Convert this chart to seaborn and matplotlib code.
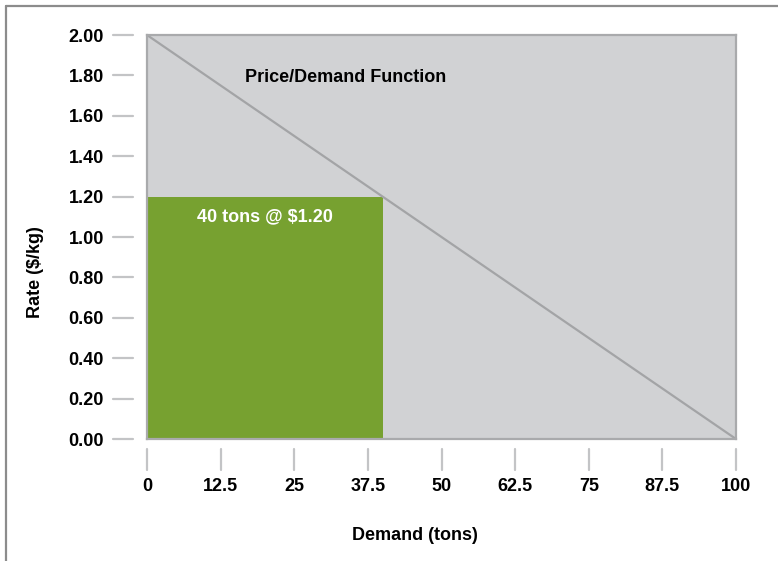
import matplotlib
matplotlib.use("Agg")
import matplotlib.pyplot as plt
import seaborn as sns
import pandas as pd
from matplotlib.lines import Line2D

# Linear price/demand function endpoints
demand_tons = [0, 100]
rate_per_kg = [2.00, 0.00]

# Selected operating point
point_demand = 40
point_rate = 1.20

x_ticks = [0, 12.5, 25, 37.5, 50, 62.5, 75, 87.5, 100]
x_tick_labels = ["0", "12.5", "25", "37.5", "50", "62.5", "75", "87.5", "100"]
y_ticks = [0.0, 0.2, 0.4, 0.6, 0.8, 1.0, 1.2, 1.4, 1.6, 1.8, 2.0]
y_tick_labels = [f"{v:.2f}" for v in y_ticks]

sns.set_style("white")
plt.rcParams["font.family"] = ["Liberation Sans", "DejaVu Sans"]
plt.rcParams["font.weight"] = "bold"
plt.rcParams["text.color"] = "black"

FS = 13

fig = plt.figure(figsize=(7.78, 5.61), dpi=100)
ax = fig.add_axes([147 / 778, 1 - 439 / 561, 589 / 778, 404 / 561])

ax.set_facecolor("#d1d2d4")
for side in ["top", "right", "left", "bottom"]:
    ax.spines[side].set_color("#a9aaac")
    ax.spines[side].set_linewidth(1.6)
    ax.spines[side].set_zorder(5)

# Revenue rectangle at the selected point
ax.bar(0, point_rate, width=point_demand, align="edge", color="#77a130",
       edgecolor="none", linewidth=0, zorder=2)

# Demand curve
curve = pd.DataFrame({"Demand": demand_tons, "Rate": rate_per_kg})
sns.lineplot(data=curve, x="Demand", y="Rate", ax=ax, color="#a3a4a6",
             linewidth=1.6, zorder=3)

ax.set_xlim(0, 100)
ax.set_ylim(0, 2.0)
ax.set_xticks(x_ticks)
ax.set_xticklabels(x_tick_labels)
ax.set_yticks(y_ticks)
ax.set_yticklabels(y_tick_labels)
ax.set_xlabel("")
ax.set_ylabel("")

# Ticks sit detached from the plot area, separated by a small gap
ax.tick_params(axis="y", direction="out", length=0, pad=31,
               labelsize=FS, labelcolor="black")
ax.tick_params(axis="x", direction="out", length=0, pad=28,
               labelsize=FS, labelcolor="black")
for lbl in ax.get_xticklabels() + ax.get_yticklabels():
    lbl.set_fontweight("bold")

tick_color = "#c3c4c6"
for y in y_ticks:
    ax.add_line(Line2D([-0.058, -0.024], [y / 2.0, y / 2.0],
                       transform=ax.transAxes, color=tick_color,
                       linewidth=1.6, clip_on=False))
for x in x_ticks:
    ax.add_line(Line2D([x / 100, x / 100], [-0.025, -0.077],
                       transform=ax.transAxes, color=tick_color,
                       linewidth=1.6, clip_on=False))

ax.text(16.6, 1.79, "Price/Demand Function", ha="left", va="center",
        fontsize=FS, fontweight="bold", color="black", zorder=4)
ax.text(point_demand / 2, point_rate - 0.10,
        f"{point_demand} tons @ ${point_rate:.2f}", ha="center", va="center",
        fontsize=FS, fontweight="bold", color="white", zorder=4)

fig.text(415 / 778, 1 - 535 / 561, "Demand (tons)", ha="center", va="center",
         fontsize=FS, fontweight="bold", color="black")
fig.text(36 / 778, 1 - 272 / 561, "Rate ($/kg)", ha="center", va="center",
         rotation=90, fontsize=FS, fontweight="bold", color="black")

# Outer frame along the top and left edges
fig.add_artist(Line2D([6 / 778, 1.0], [1 - 6 / 561, 1 - 6 / 561],
                      transform=fig.transFigure, color="#8c8c8c", linewidth=1.6))
fig.add_artist(Line2D([6 / 778, 6 / 778], [0.0, 1 - 6 / 561],
                      transform=fig.transFigure, color="#8c8c8c", linewidth=1.6))

fig.savefig("out.png", dpi=100)
